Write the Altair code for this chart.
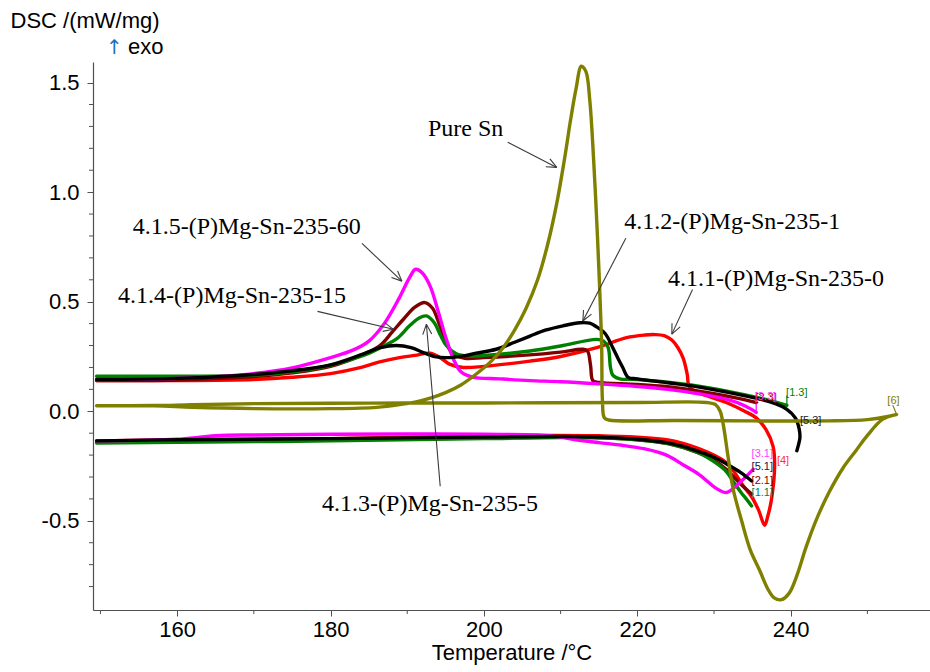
import math
import altair as alt
import pandas as pd

# ---------------- axis ranges / plot size ----------------
T_MIN, T_MAX = 149.03, 258.16
D_MIN, D_MAX = -0.907, 1.594
W, H = 837, 548

# ---------------- DSC traces (T in degC, DSC in mW/mg) ----------------
# Pure Sn: heating run, then cooling run back down (one continuous trace)
sn_T = [149.5, 157, 162, 170, 180, 186, 189, 191, 193, 195, 197, 199, 201, 202.5, 204, 205.5,
        207, 208.3, 209.5, 210.5, 211.3, 212, 212.7, 213.3, 213.8, 214.3, 214.8, 215.1, 215.35,
        215.45, 215.7, 216.3, 225, 235, 245, 250, 252.5, 253.8,
        252, 250, 248.5, 246.8, 245, 243.4, 242, 240.8, 239.8, 238.8, 237.8, 237, 236, 234.7,
        233.6, 232.5, 231.8, 231.2, 230.8, 230.2, 229, 220, 200, 185, 170, 162, 157, 149.5]
sn_D = [0.025, 0.025, 0.018, 0.012, 0.012, 0.018, 0.03, 0.042, 0.06, 0.085, 0.12, 0.17, 0.23,
        0.29, 0.37, 0.47, 0.6, 0.76, 0.95, 1.15, 1.33, 1.47, 1.575, 1.55, 1.42, 1.15, 0.8, 0.55,
        0.3, 0.05, -0.03, -0.04, -0.042, -0.044, -0.044, -0.038, -0.025, -0.014,
        -0.036, -0.11, -0.18, -0.26, -0.37, -0.49, -0.62, -0.75, -0.83, -0.86, -0.85, -0.81,
        -0.73, -0.63, -0.5, -0.356, -0.2, -0.06, 0.0, 0.03, 0.04, 0.04, 0.038, 0.037, 0.035,
        0.03, 0.026, 0.025]

# 4.1.1-(P)Mg-Sn-235-0 (red), one trace
s1_T = [149.5, 160, 170, 175, 180, 184, 186.4, 189, 191, 193, 194.5, 195.5, 197.3, 200, 206, 210,
        214.7, 218.6, 221, 222.3, 223.5, 224.5, 225.3, 226, 226.5, 226.8, 228, 231.6, 234, 235.5,
        236.8, 237.7, 237.9, 237.5, 237, 236.6, 235.8, 234.9, 233.8, 232.5, 231.6, 228.1, 223.8,
        215, 200, 180, 160, 149.5]
s1_D = [0.14, 0.14, 0.145, 0.155, 0.172, 0.2, 0.225, 0.245, 0.255, 0.265, 0.24, 0.215, 0.2, 0.205,
        0.229, 0.25, 0.29, 0.336, 0.348, 0.35, 0.345, 0.325, 0.29, 0.24, 0.17, 0.11, 0.085, 0.04,
        0.0, -0.03, -0.085, -0.16, -0.25, -0.40, -0.48, -0.52, -0.45, -0.39, -0.34, -0.27, -0.234,
        -0.172, -0.13, -0.112, -0.112, -0.125, -0.13, -0.135]

# 4.1.2-(P)Mg-Sn-235-1 (black)
s5_up_T = [149.5, 160, 170, 175, 180, 184.3, 186.5, 188.6, 190.5, 192.1, 193.8, 196, 197.3, 199,
           201.6, 204, 206, 208, 210.3, 212.5, 213.8, 214.7, 215.8, 216.8, 217.5, 218.1, 218.8,
           220, 224, 227.3, 232, 236, 238, 239.5, 240.6, 241.1, 241.2, 241, 240.8]
s5_up_D = [0.145, 0.15, 0.168, 0.185, 0.212, 0.262, 0.29, 0.3, 0.29, 0.268, 0.248, 0.246, 0.252,
           0.265, 0.283, 0.315, 0.343, 0.37, 0.39, 0.404, 0.402, 0.385, 0.355, 0.29, 0.24, 0.2,
           0.155, 0.148, 0.13, 0.115, 0.085, 0.055, 0.035, 0.009, -0.03, -0.08, -0.12, -0.155, -0.18]
s5_lo_T = [149.5, 160, 180, 200, 210, 215, 220, 223.8, 226, 228.1, 230, 231.6, 233.5, 234.9]
s5_lo_D = [-0.135, -0.13, -0.125, -0.118, -0.115, -0.118, -0.128, -0.143, -0.16, -0.185, -0.21,
           -0.24, -0.28, -0.318]

# 4.1.3-(P)Mg-Sn-235-5 (green)
s2_up_T = [149.5, 160, 170, 175, 180, 184.3, 186.5, 188.6, 190.3, 191.5, 192.5, 193.5, 194.3,
           195.1, 196.4, 198, 200, 206, 210, 214.7, 215.6, 216.2, 216.5, 216.8, 217.7, 220, 227,
           232, 236, 239.5]
s2_up_D = [0.16, 0.16, 0.165, 0.18, 0.21, 0.255, 0.29, 0.33, 0.39, 0.425, 0.435, 0.405, 0.35,
           0.3, 0.262, 0.252, 0.255, 0.275, 0.298, 0.328, 0.32, 0.29, 0.2, 0.165, 0.148, 0.145,
           0.12, 0.09, 0.06, 0.027]
s2_lo_T = [149.5, 160, 180, 200, 210, 215, 220, 224, 228, 230, 231.6, 232.5, 233.5, 234.2, 234.9]
s2_lo_D = [-0.145, -0.142, -0.135, -0.125, -0.12, -0.122, -0.13, -0.148, -0.19, -0.23, -0.275,
           -0.32, -0.37, -0.40, -0.432]

# 4.1.4-(P)Mg-Sn-235-15 (brown)
s4_up_T = [149.5, 160, 170, 175, 180, 184, 186.4, 188, 189.5, 191, 192.3, 193.3, 194.2, 195, 196,
           197.5, 200, 205, 210, 212.9, 213.5, 213.9, 214.2, 215, 220, 225, 230, 233, 235.5]
s4_up_D = [0.14, 0.143, 0.158, 0.175, 0.205, 0.255, 0.298, 0.36, 0.42, 0.475, 0.496, 0.47, 0.395,
           0.32, 0.26, 0.242, 0.245, 0.255, 0.27, 0.283, 0.275, 0.21, 0.14, 0.132, 0.122, 0.108,
           0.08, 0.06, 0.04]
s4_lo_T = [149.5, 160, 180, 200, 210, 215, 220, 224, 228, 230, 231.6, 233.4, 234.9]
s4_lo_D = [-0.14, -0.137, -0.13, -0.122, -0.118, -0.12, -0.13, -0.148, -0.19, -0.225, -0.265,
           -0.33, -0.378]

# 4.1.5-(P)Mg-Sn-235-60 (magenta)
s3_up_T = [149.5, 155, 160, 165, 170, 175, 180, 183, 185, 187, 189, 190.3, 191.1, 192, 193, 194,
           195, 196, 197, 198.5, 202, 206, 210, 215, 220, 224, 228, 231.6, 234, 235.5]
s3_up_D = [0.145, 0.147, 0.15, 0.158, 0.172, 0.198, 0.245, 0.28, 0.32, 0.4, 0.52, 0.61, 0.648,
           0.63, 0.57, 0.46, 0.34, 0.24, 0.18, 0.156, 0.148, 0.14, 0.135, 0.125, 0.113, 0.1, 0.08,
           0.055, 0.025, -0.005]
s3_lo_T = [149.5, 155, 160, 165, 170, 180, 190, 200, 207, 210, 212, 215, 218, 221, 223.8, 226,
           228.1, 230.3, 231.6, 232.9, 235.1]
s3_lo_D = [-0.135, -0.133, -0.128, -0.112, -0.108, -0.105, -0.104, -0.105, -0.108, -0.118, -0.13,
           -0.143, -0.155, -0.172, -0.2, -0.245, -0.29, -0.352, -0.371, -0.34, -0.265]

# trace name, series, T list, DSC list (drawing order: first is at the bottom)
traces = [
    ("s1", "red", s1_T, s1_D),
    ("s4u", "brown", s4_up_T, s4_up_D),
    ("s4l", "brown", s4_lo_T, s4_lo_D),
    ("s2u", "green", s2_up_T, s2_up_D),
    ("s2l", "green", s2_lo_T, s2_lo_D),
    ("s3u", "magenta", s3_up_T, s3_up_D),
    ("s3l", "magenta", s3_lo_T, s3_lo_D),
    ("s5u", "black", s5_up_T, s5_up_D),
    ("s5l", "black", s5_lo_T, s5_lo_D),
    ("sn", "olive", sn_T, sn_D),
]
series_names = ["red", "brown", "green", "magenta", "black", "olive"]
series_colors = ["#ff0000", "#800000", "#008000", "#ff00ff", "#000000", "#808000"]

rows = []
for k, (name, ser, ts, ds) in enumerate(traces):
    for i, (t, d) in enumerate(zip(ts, ds)):
        rows.append({"trace": name, "series": ser, "z": k, "i": i, "T": t, "D": d})
curves = pd.DataFrame(rows)

# ---------------- annotations ----------------
ann_text = ["Pure Sn", "4.1.2-(P)Mg-Sn-235-1", "4.1.1-(P)Mg-Sn-235-0",
            "4.1.5-(P)Mg-Sn-235-60", "4.1.4-(P)Mg-Sn-235-15", "4.1.3-(P)Mg-Sn-235-5"]
ann_T = [192.7, 218.3, 224.0, 154.2, 152.3, 178.9]
ann_D = [1.286, 0.866, 0.602, 0.839, 0.524, -0.424]

# arrows: start (near the label) -> head (on the curve)
arr_T0 = [203.1, 218.5, 227.2, 184.1, 178.3, 194.3]
arr_D0 = [1.228, 0.790, 0.556, 0.766, 0.456, -0.342]
arr_T1 = [209.5, 212.9, 224.5, 189.3, 188.2, 192.5]
arr_D1 = [1.113, 0.412, 0.352, 0.594, 0.374, 0.397]

# segment end tags
tag_text = ["[1.3]", "[2.3]", "[3.3]", "[5.3]", "[6]", "[3.1]", "[4]", "[5.1]", "[2.1]", "[1.1]"]
tag_T = [239.4, 235.4, 235.3, 241.2, 252.6, 234.9, 238.2, 234.9, 234.9, 234.9]
tag_D = [0.071, 0.048, 0.05, -0.059, 0.032, -0.21, -0.24, -0.27, -0.33, -0.385]
tag_color = ["#008000", "#800000", "#ff33ff", "#202020", "#808000", "#ff44ff", "#ff3333",
             "#202040", "#800000", "#008060"]

# leader strokes from segment ends to their tags
lead_T0 = [239.5, 235.5, 253.8]
lead_D0 = [0.027, -0.005, -0.014]
lead_T1 = [239.5, 235.5, 253.3]
lead_D1 = [0.072, 0.052, 0.028]
lead_color = ["#008000", "#ff00ff", "#808000"]

# axis tick positions
y_major = [-0.5, 0.0, 0.5, 1.0, 1.5]
y_minor = [-0.8, -0.7, -0.6, -0.4, -0.3, -0.2, -0.1, 0.1, 0.2, 0.3, 0.4, 0.6, 0.7, 0.8, 0.9,
           1.1, 1.2, 1.3, 1.4]
x_major = [160, 180, 200, 220, 240]
x_minor = [150, 170, 190, 210, 230, 250]

# ---------------- geometry helpers for arrow heads ----------------
SX = W / (T_MAX - T_MIN)
SY = H / (D_MAX - D_MIN)


def head(t0, d0, t1, d1, length=11.0, spread=24.0):
    """Two wing strokes of an open arrow head at (t1, d1)."""
    dx, dy = (t0 - t1) * SX, -(d0 - d1) * SY
    n = math.hypot(dx, dy)
    ux, uy = dx / n, dy / n
    out = []
    for s in (1, -1):
        a = math.radians(spread) * s
        wx = ux * math.cos(a) - uy * math.sin(a)
        wy = ux * math.sin(a) + uy * math.cos(a)
        out.append((t1, d1, t1 + wx * length / SX, d1 - wy * length / SY))
    return out


seg_rows = []
for t0, d0, t1, d1 in zip(arr_T0, arr_D0, arr_T1, arr_D1):
    seg_rows.append({"T": t0, "D": d0, "T2": t1, "D2": d1})
    for a in head(t0, d0, t1, d1):
        seg_rows.append({"T": a[0], "D": a[1], "T2": a[2], "D2": a[3]})
arrows = pd.DataFrame(seg_rows)

leaders = pd.DataFrame({"T": lead_T0, "D": lead_D0, "T2": lead_T1, "D2": lead_D1, "c": lead_color})
anns = pd.DataFrame({"text": ann_text, "T": ann_T, "D": ann_D})
tags = pd.DataFrame({"text": tag_text, "T": tag_T, "D": tag_D, "c": tag_color})

# ---------------- scales / axes ----------------
SANS = "Liberation Sans, Arial, DejaVu Sans"
AX = "#505050"
xscale = alt.Scale(domain=[T_MIN, T_MAX], nice=False, zero=False)
yscale = alt.Scale(domain=[D_MIN, D_MAX], nice=False, zero=False)

x_axis = alt.Axis(
    title="Temperature /°C",
    values=x_major,
    format="d",
    tickSize=6,
    labelPadding=3,
    titlePadding=2,
    grid=False,
)
y_axis = alt.Axis(
    title="DSC /(mW/mg)",
    values=y_major,
    format=".1f",
    labelExpr="replace(datum.label, '\u2212', '-')",
    tickSize=6,
    labelPadding=8,
    titleAngle=0,
    titleAlign="left",
    titleBaseline="alphabetic",
    titleX=-83,
    titleY=-35,
    grid=False,
)

lines = alt.Chart(curves).mark_line(strokeWidth=3.4, interpolate="catmull-rom",
                                    strokeCap="round", strokeJoin="round").encode(
    x=alt.X("T:Q", scale=xscale, axis=x_axis),
    y=alt.Y("D:Q", scale=yscale, axis=y_axis),
    color=alt.Color("series:N", scale=alt.Scale(domain=series_names, range=series_colors),
                    legend=None),
    detail="trace:N",
    order="i:Q",
)
# draw the traces in a fixed stacking order
line_layers = [lines.transform_filter(alt.datum.z == k) for k in range(len(traces))]

# minor ticks, drawn just outside the axis lines
y_minor_layer = alt.Chart(pd.DataFrame({"D": y_minor})).mark_rule(
    color=AX, strokeWidth=1).encode(
    y=alt.Y("D:Q", scale=yscale), x=alt.value(-4), x2=alt.value(0))
x_minor_layer = alt.Chart(pd.DataFrame({"T": x_minor})).mark_rule(
    color=AX, strokeWidth=1).encode(
    x=alt.X("T:Q", scale=xscale), y=alt.value(H), y2=alt.value(H + 4))

arrow_layer = alt.Chart(arrows).mark_rule(color="#3a3a3a", strokeWidth=1.1).encode(
    x=alt.X("T:Q", scale=xscale), y=alt.Y("D:Q", scale=yscale), x2="T2:Q", y2="D2:Q")

leader_layer = alt.Chart(leaders).mark_rule(strokeWidth=1.2).encode(
    x=alt.X("T:Q", scale=xscale), y=alt.Y("D:Q", scale=yscale), x2="T2:Q", y2="D2:Q",
    color=alt.Color("c:N", scale=None))

ann_layer = alt.Chart(anns).mark_text(font="Liberation Serif", fontSize=24, align="left",
                                      baseline="middle", color="#000000").encode(
    x=alt.X("T:Q", scale=xscale), y=alt.Y("D:Q", scale=yscale), text="text:N")

tag_layer = alt.Chart(tags).mark_text(font=SANS, fontSize=11, align="left",
                                      baseline="alphabetic").encode(
    x=alt.X("T:Q", scale=xscale), y=alt.Y("D:Q", scale=yscale), text="text:N",
    color=alt.Color("c:N", scale=None))

exo_arrow = alt.Chart(pd.DataFrame({"t": ["↑"]})).mark_text(
    font="DejaVu Sans", fontSize=20, align="left", baseline="alphabetic", color="#1f6fc0"
).encode(x=alt.value(13), y=alt.value(-8), text="t:N")
exo_word = alt.Chart(pd.DataFrame({"t": ["exo"]})).mark_text(
    font=SANS, fontSize=22, align="left", baseline="alphabetic", color="#000000"
).encode(x=alt.value(35), y=alt.value(-8), text="t:N")

chart = alt.layer(
    *line_layers, y_minor_layer, x_minor_layer, leader_layer, arrow_layer, ann_layer,
    tag_layer, exo_arrow, exo_word
).properties(
    width=W, height=H,
    autosize=alt.AutoSizeParams(type="none"),
    padding={"left": 93, "top": 62, "right": 0, "bottom": 62},
    background="#ffffff",
).configure_view(stroke=None).configure_axis(
    domainColor=AX, tickColor=AX, domainWidth=1.2, tickWidth=1,
    labelFont=SANS, labelFontSize=22, labelColor="#000000",
    titleFont=SANS, titleFontSize=22, titleFontWeight="normal", titleColor="#000000",
)

chart.save("out.html", embed_options={"renderer": "svg", "actions": False})
